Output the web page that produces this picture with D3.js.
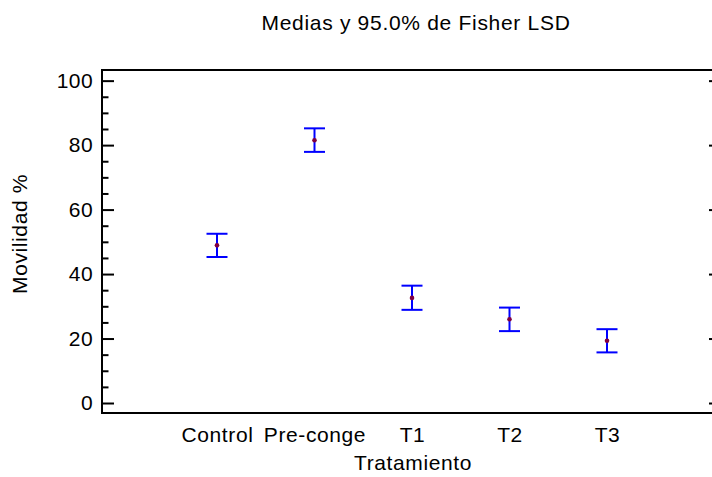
<!DOCTYPE html>
<html>
<head>
<meta charset="utf-8">
<script src="https://cdn.jsdelivr.net/npm/d3@7"></script>
<style>
  html, body { margin: 0; padding: 0; background: #fff; }
  svg { display: block; }
  text { font-family: "Liberation Sans", Arial, sans-serif; fill: #000; }
</style>
</head>
<body>
<div id="chart"></div>
<script>
// ---- data ----
const categories = ["Control", "Pre-conge", "T1", "T2", "T3"];
const means = [48.9, 81.5, 32.6, 26.0, 19.3];
const lower = [45.3, 77.9, 28.9, 22.3, 15.7];
const upper = [52.5, 85.2, 36.4, 29.6, 22.9];
const yTicks = [0, 20, 40, 60, 80, 100];
const yMinorTicks = [0, 5, 10, 15, 20, 25, 30, 35, 40, 45, 50, 55, 60, 65, 70, 75, 80, 85, 90, 95, 100];
const titleText = "Medias y 95.0% de Fisher LSD";
const xTitle = "Tratamiento";
const yTitle = "Movilidad %";

// ---- layout ----
const W = 712, H = 477;
const mLeft = 102, mRight = 721, mTop = 70, mBottom = 413;
const fontSize = 21;

const svg = d3.select("#chart").append("svg")
  .attr("width", W).attr("height", H);

const x = d3.scalePoint().domain(categories).range([217, 607]);
const y = d3.scaleLinear().domain([-3.1, 103.3]).range([mBottom, mTop]);

// frame
svg.append("rect")
  .attr("x", mLeft).attr("y", mTop)
  .attr("width", mRight - mLeft).attr("height", mBottom - mTop)
  .attr("fill", "none").attr("stroke", "#000").attr("stroke-width", 2);

// left axis major
const gL = svg.append("g").attr("transform", `translate(${mLeft},0)`)
  .call(d3.axisLeft(y).tickValues(yTicks).tickSize(-12).tickPadding(9).tickFormat(d3.format("d")));
gL.select(".domain").remove();
gL.selectAll(".tick line").attr("stroke", "#000").attr("stroke-width", 2);
gL.selectAll(".tick text")
  .attr("font-family", '"Liberation Sans", Arial, sans-serif')
  .attr("font-size", fontSize).attr("fill", "#000").attr("letter-spacing", "0.4px");

// left axis minor
const gLm = svg.append("g").attr("transform", `translate(${mLeft},0)`)
  .call(d3.axisLeft(y).tickValues(yMinorTicks.filter(v => !yTicks.includes(v))).tickSize(-6.5).tickFormat(""));
gLm.select(".domain").remove();
gLm.selectAll(".tick line").attr("stroke", "#000").attr("stroke-width", 2);

// right axis major
const gR = svg.append("g").attr("transform", `translate(${mRight},0)`)
  .call(d3.axisRight(y).tickValues(yTicks).tickSize(-12).tickFormat(""));
gR.select(".domain").remove();
gR.selectAll(".tick line").attr("stroke", "#000").attr("stroke-width", 2);

// bottom axis (labels only)
const gB = svg.append("g").attr("transform", `translate(0,${mBottom})`)
  .call(d3.axisBottom(x).tickSize(0).tickPadding(14));
gB.select(".domain").remove();
gB.selectAll(".tick text")
  .attr("font-family", '"Liberation Sans", Arial, sans-serif')
  .attr("font-size", fontSize).attr("fill", "#000").attr("letter-spacing", "0.6px");

// error bars
const capHalf = 10.5;
const data = categories.map((c, i) => ({ c, m: means[i], lo: lower[i], hi: upper[i] }));
const eb = svg.append("g").selectAll("g").data(data).join("g");
eb.append("line")
  .attr("x1", d => x(d.c)).attr("x2", d => x(d.c))
  .attr("y1", d => y(d.lo)).attr("y2", d => y(d.hi))
  .attr("stroke", "#0000ff").attr("stroke-width", 2);
eb.append("line")
  .attr("x1", d => x(d.c) - capHalf).attr("x2", d => x(d.c) + capHalf)
  .attr("y1", d => y(d.hi)).attr("y2", d => y(d.hi))
  .attr("stroke", "#0000ff").attr("stroke-width", 2);
eb.append("line")
  .attr("x1", d => x(d.c) - capHalf).attr("x2", d => x(d.c) + capHalf)
  .attr("y1", d => y(d.lo)).attr("y2", d => y(d.lo))
  .attr("stroke", "#0000ff").attr("stroke-width", 2);
eb.append("circle")
  .attr("cx", d => x(d.c)).attr("cy", d => y(d.m)).attr("r", 2.3)
  .attr("fill", "#800040");

// titles
svg.append("text")
  .attr("x", 416).attr("y", 30).attr("text-anchor", "middle")
  .attr("font-size", fontSize).attr("letter-spacing", "0.7px")
  .text(titleText);

svg.append("text")
  .attr("x", 413).attr("y", 470).attr("text-anchor", "middle")
  .attr("font-size", fontSize).attr("letter-spacing", "0.6px")
  .text(xTitle);

svg.append("text")
  .attr("transform", "translate(27,234) rotate(-90)")
  .attr("text-anchor", "middle")
  .attr("font-size", fontSize).attr("letter-spacing", "0.6px")
  .text(yTitle);
</script>
</body>
</html>
